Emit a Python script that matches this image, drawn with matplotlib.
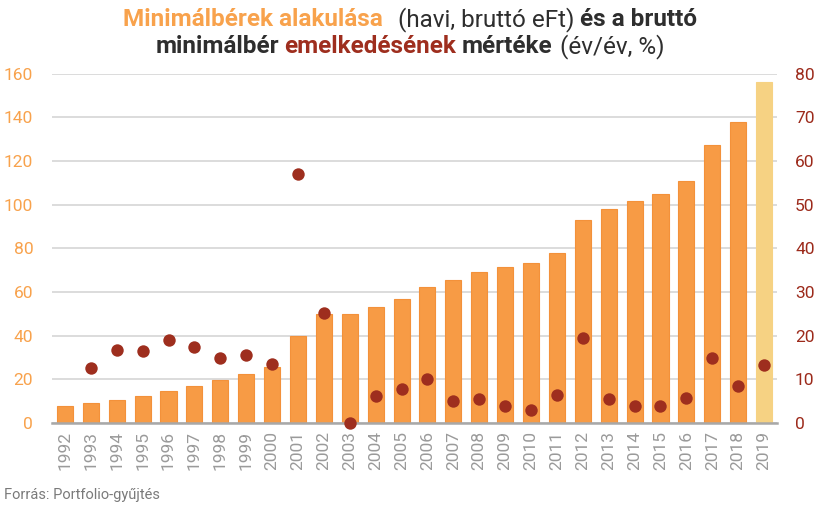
import matplotlib
matplotlib.use("Agg")
import matplotlib.pyplot as plt
import numpy as np

years = [str(y) for y in range(1992, 2020)]
wage = [8, 9, 10.5, 12.2, 14.5, 17, 19.5, 22.5, 25.5, 40, 50, 50, 53, 57, 62.5,
        65.5, 69, 71.5, 73.5, 78, 93, 98, 101.5, 105, 111, 127.5, 138, 156]
growth = [None, 12.5, 16.7, 16.4, 19.1, 17.4, 14.9, 15.5, 13.5, 57.1, 25.2, 0.0,
          6.1, 7.7, 10.0, 5.0, 5.4, 3.8, 2.9, 6.4, 19.4, 5.5, 3.8, 3.8, 5.8,
          15.0, 8.4, 13.2]
left_ticks = [0, 20, 40, 60, 80, 100, 120, 140, 160]
right_ticks = [0, 10, 20, 30, 40, 50, 60, 70, 80]

ORANGE = '#F79B45'
EDGE = '#F3913A'
LIGHT = '#F6D283'
RED = '#9E2E1E'
LEFT_TXT = '#F8A24C'
RIGHT_TXT = '#9C2A1B'
DARK = '#2E2E2E'
GRAY = '#9A9A9A'

plt.rcParams['font.family'] = ['Roboto', 'DejaVu Sans']

fig = plt.figure(figsize=(8.18, 5.11), dpi=100)
ax = fig.add_axes([52/818, 1-423/511, 725/818, (423-73.7)/511])
ax2 = ax.twinx()

x = np.arange(len(years))
colors = [ORANGE]*(len(years)-1) + [LIGHT]
edges = [EDGE]*(len(years)-1) + [LIGHT]
ax.bar(x, wage, width=0.62, color=colors, edgecolor=edges, linewidth=0.8, zorder=2)
ax.set_xlim(-0.5, len(years)-0.5)
ax.set_ylim(0, 160)
ax.set_yticks(left_ticks)
ax.yaxis.grid(True, color='#D6D6D6', linewidth=1.2, zorder=0)
ax.set_axisbelow(True)
for s in ['top', 'right', 'left']:
    ax.spines[s].set_visible(False)
ax.spines['bottom'].set_color('#A8A8A8')
ax.spines['bottom'].set_linewidth(1.8)
ax.spines['bottom'].set_zorder(3)
ax.tick_params(axis='y', length=0, pad=13.5, labelsize=12.5, labelcolor=LEFT_TXT)
ax.set_xticks(x)
ax.set_xticklabels(years, rotation=90)
ax.tick_params(axis='x', length=0, pad=6, labelsize=12.5, labelcolor=GRAY)

gx = [i for i, g in enumerate(growth) if g is not None]
gy = [g for g in growth if g is not None]
ax2.scatter(gx, gy, s=80, color=RED, zorder=5, clip_on=False, linewidths=0)
ax2.set_ylim(0, 80)
ax2.set_yticks(right_ticks)
for s in ['top', 'right', 'left', 'bottom']:
    ax2.spines[s].set_visible(False)
ax2.tick_params(axis='y', length=0, pad=13, labelsize=12.5, labelcolor=RIGHT_TXT)
ax.set_zorder(1)
ax2.set_zorder(2)
ax2.patch.set_visible(False)

# Title built from coloured pieces
fig.canvas.draw()
renderer = fig.canvas.get_renderer()

def draw_line(parts, y, size, cx=410):
    texts = []
    widths = []
    for txt, col, wt, gap in parts:
        t = fig.text(0, 1 - y/511, txt, color=col, fontweight=wt, fontsize=size,
                     ha='left', va='baseline')
        bb = t.get_window_extent(renderer)
        texts.append((t, gap))
        widths.append(bb.width)
    total = sum(widths) + sum(g for _, g in texts)
    xpos = cx - total/2
    for (t, gap), w in zip(texts, widths):
        t.set_x(xpos/818)
        xpos += w + gap

draw_line([("Minimálbérek alakulása", LEFT_TXT, 'bold', 15),
           ("(havi, bruttó eFt)", DARK, 'normal', 6),
           ("és a bruttó", DARK, 'bold', 0)], 26, 17.5)
draw_line([("minimálbér", DARK, 'bold', 5),
           ("emelkedésének", RED, 'bold', 5),
           ("mértéke", DARK, 'bold', 8),
           ("(év/év, %)", DARK, 'normal', 0)], 53, 17.5)

fig.text(4/818, 1-499/511, "Forrás: Portfolio-gyűjtés", color='#7A7A7A',
         fontsize=10.5, ha='left', va='baseline')

fig.savefig('out.png', dpi=100)
